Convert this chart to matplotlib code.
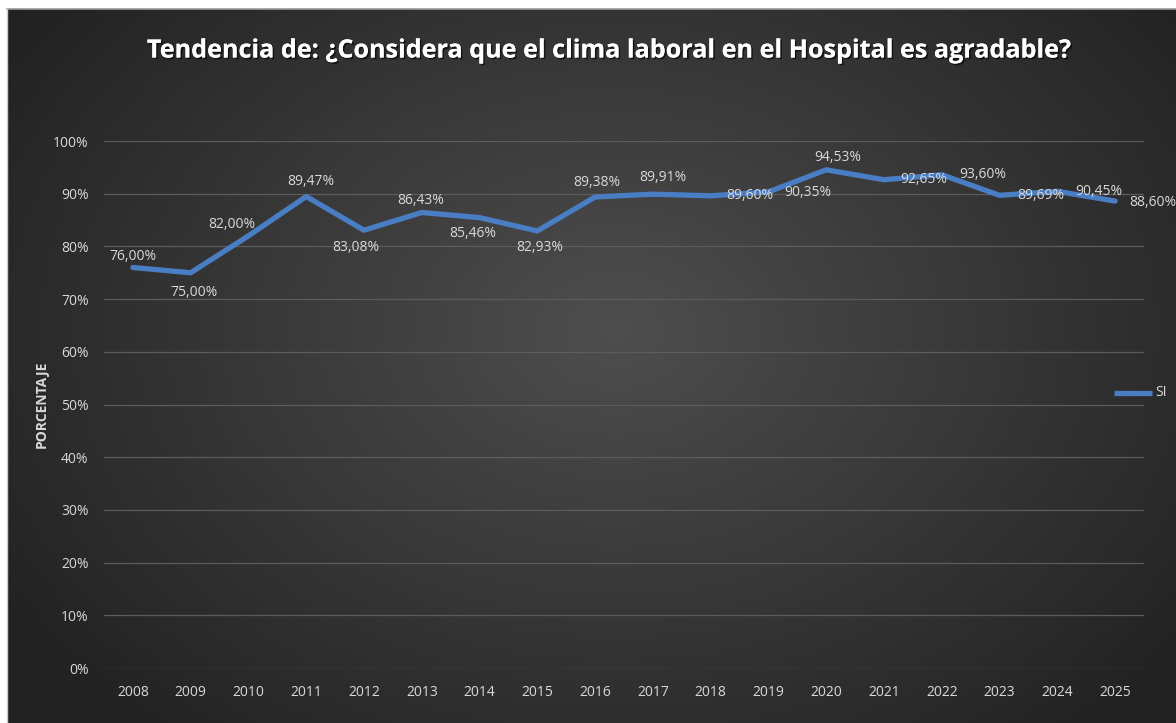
import numpy as np
import matplotlib
matplotlib.use("Agg")
import matplotlib.pyplot as plt
import matplotlib.patheffects as pe
from matplotlib.ticker import FuncFormatter, MultipleLocator

# ---- data ----
years = ["2008", "2009", "2010", "2011", "2012", "2013", "2014", "2015", "2016",
         "2017", "2018", "2019", "2020", "2021", "2022", "2023", "2024", "2025"]
si_values = [76.00, 75.00, 82.00, 89.47, 83.08, 86.43, 85.46, 82.93, 89.38,
             89.91, 89.60, 90.35, 94.53, 92.65, 93.60, 89.69, 90.45, 88.60]
series_name = "SI"
title_text = "Tendencia de: ¿Considera que el clima laboral en el Hospital es agradable?"
y_label = "PORCENTAJE"

# label placement (pixel offsets, alignment) -- styling only
label_pos = [
    (0, 11, "center"), (3, -20, "center"), (-17, 11, "center"), (5, 15, "center"),
    (-8, -17, "center"), (-1, 12, "center"), (-7, -16, "center"), (2, -17, "center"),
    (2, 14, "center"), (10, 17, "center"), (16, 0, "left"), (16, -1, "left"),
    (12, 12, "center"), (16, 0, "left"), (17, 0, "left"), (18, 0, "left"),
    (18, 0, "left"), (14, -1, "left"),
]

W, H = 1176, 723
fig = plt.figure(figsize=(W / 100, H / 100), dpi=100)
fig.patch.set_facecolor("white")

# background radial gradient (chart area)
bg_ax = fig.add_axes([7 / W, 0, (W - 7) / W, (H - 9) / H])
bg_ax.set_axis_off()
nx, ny = 600, 370
xx, yy = np.meshgrid(np.linspace(0, 1, nx), np.linspace(0, 1, ny))
cx, cy = 0.52, 0.45
t = np.sqrt(((xx - cx) / 0.62) ** 2 + ((yy - cy) / 0.75) ** 2)
t = np.clip(t, 0, 1)
c_in = np.array([0x4e, 0x4e, 0x4e]) / 255
c_out = np.array([0x22, 0x22, 0x22]) / 255
img = c_in[None, None, :] * (1 - t[..., None]) + c_out[None, None, :] * t[..., None]
bg_ax.imshow(img, aspect="auto", extent=[0, 1, 0, 1], origin="upper", interpolation="bilinear")
bg_ax.set_xlim(0, 1)
bg_ax.set_ylim(0, 1)

# thin gray border lines
fig.add_artist(plt.Line2D([7 / W, 1], [(H - 8.5) / H] * 2, color="#9a9a9a", lw=1.2))
fig.add_artist(plt.Line2D([6.5 / W] * 2, [0, (H - 9) / H], color="#cfcfcf", lw=1.0))

# main axes
left, right, top, bottom = 104, 1144, 141, 668
ax = fig.add_axes([left / W, 1 - bottom / H, (right - left) / W, (bottom - top) / H])
ax.set_facecolor("none")
x = np.arange(len(years))
vals = np.array(si_values) / 100.0
line, = ax.plot(x, vals, color="#4a7ec4", lw=3.8, solid_joinstyle="round",
                solid_capstyle="round", label=series_name, zorder=3)
ax.set_xlim(-0.5, len(years) - 0.5)
ax.set_ylim(0, 1)
ax.yaxis.set_major_locator(MultipleLocator(0.1))
ax.yaxis.set_major_formatter(FuncFormatter(lambda v, p: f"{v * 100:.0f}%"))
ax.set_xticks(x)
ax.set_xticklabels(years)
ax.grid(axis="y", color="#5c5c5c", lw=0.9)
ax.set_axisbelow(True)
for s in ax.spines.values():
    s.set_visible(False)
ax.tick_params(axis="both", length=0, colors="#d9d9d9", labelsize=10)
ax.tick_params(axis="x", pad=12)
ax.tick_params(axis="y", pad=11)
for lab in ax.get_xticklabels() + ax.get_yticklabels():
    lab.set_fontfamily("Open Sans")
    lab.set_color("#d9d9d9")

# data labels
for i, (v, (dx, dy, ha)) in enumerate(zip(si_values, label_pos)):
    txt = f"{v:.2f}%".replace(".", ",")
    ax.annotate(txt, (x[i], v / 100.0), xytext=(dx * 0.72, dy * 0.72),
                textcoords="offset points", ha=ha, va="center",
                fontsize=10, color="#d9d9d9", family="Open Sans", zorder=4)

# y label
fig.text(42 / W, 1 - 404 / H, y_label, rotation=90, ha="center", va="center",
         fontsize=10, fontweight="bold", color="#d9d9d9", family="Open Sans")

# title, fitted to width
ttl = fig.text(609 / W, 1 - 51 / H, title_text, ha="center", va="center",
               fontsize=16, fontweight="bold", color="white", family="Open Sans",
               path_effects=[pe.withSimplePatchShadow(offset=(1.2, -1.2), shadow_rgbFace="black", alpha=0.6),
                             pe.Normal()])
fig.canvas.draw()
r = fig.canvas.get_renderer()
w = ttl.get_window_extent(r).width
ttl.set_fontsize(16 * 925 / w)

# legend
fig.add_artist(plt.Line2D([1114 / W, 1152 / W], [1 - 393 / H] * 2, color="#4a7ec4", lw=3.8,
                          solid_capstyle="butt"))
fig.text(1155 / W, 1 - 393 / H, series_name, ha="left", va="center", fontsize=10,
         color="#d9d9d9", family="Open Sans")

fig.savefig("out.png", dpi=100, facecolor=fig.get_facecolor())
